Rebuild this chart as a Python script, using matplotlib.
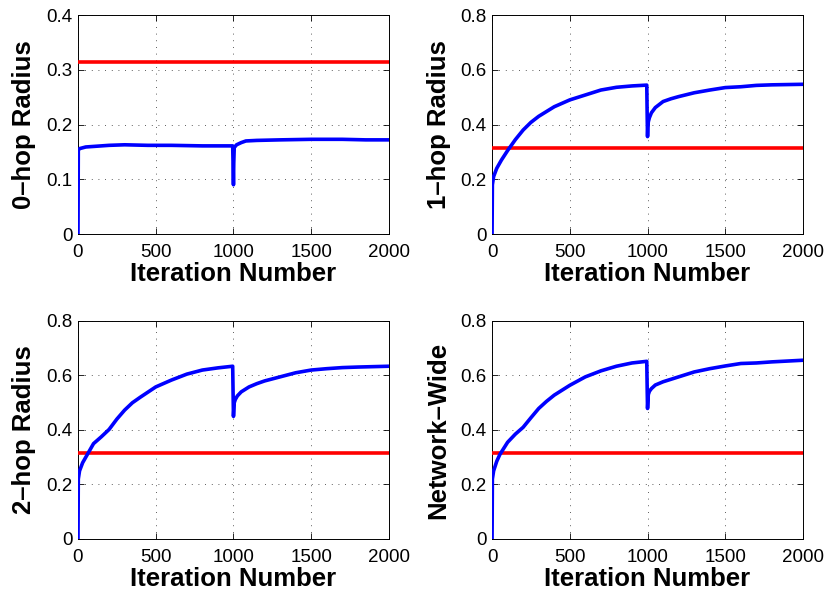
import matplotlib.pyplot as plt

plt.rcParams['font.family'] = ['Liberation Sans', 'DejaVu Sans']

# iteration sample points and radius estimates for each neighbourhood size
iters_0hop = [0, 2, 10, 50, 100, 200, 300, 450, 600, 800, 995, 998, 1000, 1002, 1005,
              1020, 1050, 1080, 1150, 1300, 1500, 1700, 1850, 2000]
radius_0hop = [0.0, 0.153, 0.156, 0.159, 0.160, 0.162, 0.163, 0.162, 0.162, 0.161, 0.161,
               0.12, 0.09, 0.13, 0.158, 0.163, 0.167, 0.170, 0.171, 0.172, 0.173, 0.173,
               0.172, 0.172]

iters_1hop = [0, 2, 10, 30, 60, 100, 150, 200, 250, 300, 400, 500, 600, 700, 800, 900,
              995, 998, 1000, 1002, 1005, 1012, 1025, 1050, 1100, 1150, 1200, 1300, 1400,
              1500, 1600, 1700, 1800, 2000]
radius_1hop = [0.0, 0.18, 0.21, 0.24, 0.27, 0.305, 0.345, 0.38, 0.408, 0.43, 0.465, 0.49,
               0.508, 0.526, 0.536, 0.541, 0.544, 0.42, 0.356, 0.39, 0.41, 0.425, 0.443,
               0.462, 0.484, 0.494, 0.502, 0.516, 0.526, 0.535, 0.538, 0.543, 0.545, 0.547]

iters_2hop = [0, 2, 10, 30, 50, 100, 150, 200, 250, 300, 350, 400, 500, 600, 700, 800,
              900, 995, 998, 1000, 1002, 1005, 1012, 1025, 1050, 1100, 1150, 1200, 1300,
              1400, 1500, 1600, 1700, 1800, 2000]
radius_2hop = [0.0, 0.22, 0.25, 0.28, 0.30, 0.35, 0.375, 0.402, 0.44, 0.473, 0.50, 0.52,
               0.558, 0.583, 0.605, 0.62, 0.628, 0.634, 0.52, 0.45, 0.47, 0.50, 0.512,
               0.525, 0.54, 0.558, 0.57, 0.58, 0.595, 0.61, 0.62, 0.625, 0.629, 0.631,
               0.634]

iters_net = [0, 2, 10, 30, 50, 100, 150, 200, 250, 300, 350, 400, 500, 600, 700, 800,
             900, 995, 998, 1000, 1002, 1005, 1012, 1025, 1050, 1100, 1150, 1200, 1300,
             1400, 1500, 1600, 1700, 1800, 2000]
radius_net = [0.0, 0.22, 0.25, 0.285, 0.31, 0.355, 0.385, 0.41, 0.445, 0.479, 0.505,
              0.528, 0.564, 0.595, 0.617, 0.634, 0.646, 0.652, 0.54, 0.479, 0.50, 0.53,
              0.542, 0.552, 0.565, 0.577, 0.586, 0.595, 0.613, 0.625, 0.635, 0.644, 0.646,
              0.65, 0.656]

threshold = 0.315

panels = [
    ('0\u2013hop Radius', iters_0hop, radius_0hop, 0.4, [0, 0.1, 0.2, 0.3, 0.4]),
    ('1\u2013hop Radius', iters_1hop, radius_1hop, 0.8, [0, 0.2, 0.4, 0.6, 0.8]),
    ('2\u2013hop Radius', iters_2hop, radius_2hop, 0.8, [0, 0.2, 0.4, 0.6, 0.8]),
    ('Network\u2013Wide', iters_net, radius_net, 0.8, [0, 0.2, 0.4, 0.6, 0.8]),
]

positions = [
    [0.0943, 0.606, 0.376, 0.3687],
    [0.595, 0.606, 0.376, 0.3687],
    [0.0943, 0.0926, 0.376, 0.367],
    [0.595, 0.0926, 0.376, 0.367],
]

fig = plt.figure(figsize=(8.27, 5.94), dpi=100)

for (label, x, y, ymax, yt), pos in zip(panels, positions):
    ax = fig.add_axes(pos)
    ax.plot([0, 2000], [threshold, threshold], color='#ff0000', lw=2.6, zorder=3)
    ax.plot(x, y, color='#0000ff', lw=2.6, zorder=4)
    ax.set_xlim(0, 2000)
    ax.set_ylim(0, ymax)
    ax.set_xticks([0, 500, 1000, 1500, 2000])
    ax.set_yticks(yt)
    ax.set_yticklabels(['0' if v == 0 else f'{v:.1f}' for v in yt])
    ax.grid(True, linestyle=(0, (1, 7)), color='black', lw=0.6, alpha=0.85)
    ax.tick_params(direction='in', top=True, right=True, labelsize=13.5,
                   length=4, width=0.6, pad=4)
    ax.tick_params(axis='x', pad=7)
    for s in ax.spines.values():
        s.set_linewidth(0.7)
    ax.set_xlabel('Iteration Number', fontsize=18.5, fontweight='bold', labelpad=1)
    ax.set_ylabel(label, fontsize=18.5, fontweight='bold', labelpad=7)

fig.savefig('out.png', dpi=100)
